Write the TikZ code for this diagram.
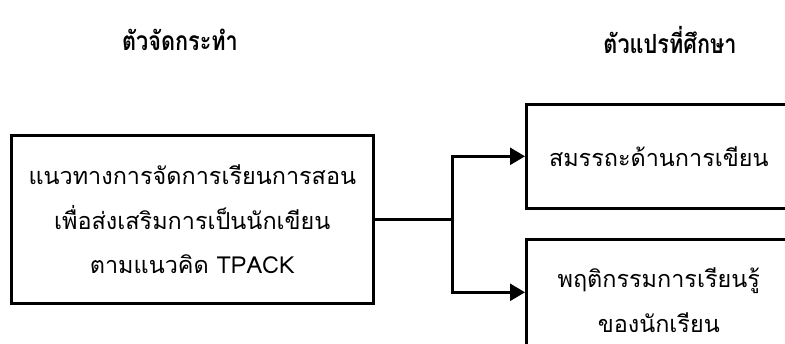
\documentclass[tikz,border=0pt]{standalone}
\usepackage{fontspec}
\newfontfamily\thaifont[Script=Thai]{Loma}
\newfontfamily\thaititle[Script=Thai,FakeStretch=0.82]{Loma}
\usetikzlibrary{arrows.meta}
\begin{document}
\begin{tikzpicture}[x=1bp,y=-1bp,
  box/.style={draw, line width=2.6bp, rectangle, inner sep=0pt, anchor=north west,
    font=\thaifont\fontsize{23.5}{45}\selectfont, align=center},
  title/.style={font=\thaititle\bfseries\fontsize{26.5}{30}\selectfont},
  conn/.style={line width=2.6bp},
  arr/.style={conn, -{Triangle[length=15bp,width=17bp]}}]
\useasboundingbox (0,0) rectangle (785,343);
\clip (0,0) rectangle (785,343);
\node[title] (t1) at (180,40) {ตัวจัดกระทำ};
\node[title] (t2) at (670,40) {ตัวแปรที่ศึกษา};
\node[box, minimum width=362bp, minimum height=168bp] (src) at (10,134)
  {แนวทางการจัดการเรียนการสอน\\เพื่อส่งเสริมการเป็นนักเขียน\\ตามแนวคิด TPACK};
\node[box, minimum width=265bp, minimum height=104bp] (top) at (525,103)
  {สมรรถะด้านการเขียน};
\node[box, minimum width=265bp, minimum height=122bp] (bot) at (525,238)
  {พฤติกรรมการเรียนรู้\\ของนักเรียน};
\path (src.east) -- ++(78,0) coordinate (j);
\coordinate (bt) at ([yshift=8bp]bot.west);
\draw[conn] (src.east) -- (j);
\draw[arr] (j) |- (top.west);
\draw[arr] (j) |- (bt);
\end{tikzpicture}
\end{document}
